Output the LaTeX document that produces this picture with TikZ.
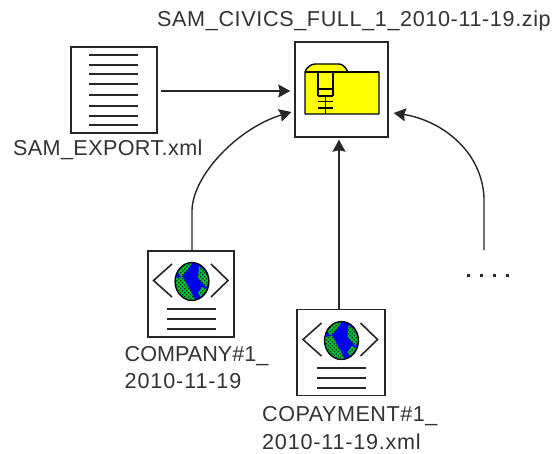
\documentclass[tikz,border=0pt]{standalone}
\usepackage{fontspec}
\setmainfont{Liberation Sans}
\usetikzlibrary{arrows.meta,calc}
\definecolor{fy}{RGB}{255,255,0}
\definecolor{gb}{RGB}{0,0,240}
\definecolor{gg}{RGB}{0,190,50}
\tikzset{
  iconbox/.style={draw=black!85,line width=1.4pt,fill=white,inner sep=0pt,minimum width=#1,minimum height=86pt},
  rule/.style={draw=black!85,line width=1.3pt},
  chev/.style={draw=black!85,line width=1.6pt},
  conn/.style={draw=black!85,line width=1.4pt,-{Stealth[length=12pt,width=13pt,inset=1.5pt]}},
  lbl/.style={inner sep=0pt,anchor=base west,font=\fontsize{21.6pt}{24pt}\selectfont,text=black!80},
  dot/.style={fill=black!85,inner sep=0pt,minimum size=3pt}
}
\newcommand{\lsp}[1]{\addfontfeatures{LetterSpace=#1}}
\newcommand{\xmlicon}[2]{%
  \begin{scope}[shift={(#1,#2)}]
    \draw[chev] (24,13) -- (5.5,29.5) -- (24,46);
    \draw[chev] (63,13) -- (80,29.5) -- (63,46);
    \fill[gb] (44,30.5) ellipse (17 and 19);
    \begin{scope}
      \clip (36,13) -- (44,12) -- (37,22) -- (33,26) -- (30,21) -- cycle
            (51,15) -- (57,20) -- (61,30) -- (58,36) -- (50,27) -- cycle
            (27,27) -- (35,26) -- (41,37) -- (47,49) -- (40,50) -- (29,40) -- cycle
            (54,36) -- (59,38) -- (53,46) -- (50,42) -- cycle;
      \fill[gg] (25,10) rectangle (63,52);
      \foreach \i in {0,...,9}
        \foreach \j in {0,...,10}
          \fill[black!75!gg] ({26+4*\i},{11+4*\j}) rectangle +(1.4,1.4)
                             ({28+4*\i},{13+4*\j}) rectangle +(1.4,1.4);
    \end{scope}
    \draw[black,line width=1.2pt] (44,30.5) ellipse (17 and 19);
    \draw[rule] (19,58) -- (68,58) (19,68) -- (68,68) (19,78) -- (68,78);
  \end{scope}}
\begin{document}
\begin{tikzpicture}[x=1pt,y=-1pt]
\useasboundingbox[fill=white] (0,0) rectangle (553,454);
% nodes
\node[iconbox=93pt,minimum height=95pt] (zip) at (341.5,89.5) {};
\node[iconbox=86pt] (doc) at (114,90) {};
\node[iconbox=86pt] (company) at (191,294) {};
\node[iconbox=88pt] (copay) at (341,352.5) {};
\node[inner sep=0pt,minimum size=1pt] (more) at (484,250) {};
% zip icon
\draw[black,line width=1.4pt,fill=fy,line join=round]
  (305,72) .. controls (306,68) and (311,64) .. (315,64) -- (339,64) .. controls (343,64) and (346,68) .. (348,72) -- (379,72) -- (379,114) -- (305,114) -- cycle;
\draw[black,line width=1.3pt] (305,72) -- (379,72)
  (318,72) -- (318,96) (333,72) -- (333,96)
  (318,89) -- (333,89) (318,96) -- (333,96) (325.5,96) -- (325.5,114)
  (318,101.5) -- (333,101.5) (318,108) -- (333,108);
% document lines
\foreach \y in {55,65,74,84,95,106,116,125}
  \draw[rule] (89,\y) -- (138,\y);
% xml icons
\xmlicon{148}{251}
\xmlicon{297.5}{310}
% connectors
\draw[conn] ($(doc.east |- 0,91)+(3,0)$) -- ($(zip.west |- 0,91)+(-4,0)$);
\draw[conn] (company.north -| 192,0) -- (192,210) .. controls (193,175) and (238,128) .. ($(zip.west |- 0,112)+(-3,0)$);
\draw[conn] (copay.north -| 339,0) -- ($(zip.south -| 339,0)+(0,2)$);
\draw[conn] (more.center) -- (484,198) .. controls (482,150) and (440,120) .. ($(zip.east |- 0,113)+(5,0)$);
% dots
\foreach \x in {468,481,494,507}
  \node[dot] at (\x,275) {};
% labels
\node[lbl] (l1) at (157,27) {\lsp{2.9}SAM\_CIVICS\_FULL\_1\_2010-11-19.zip};
\node[lbl] (l2) at (13,155.5) {\lsp{1.7}SAM\_EXPORT.xml};
\node[lbl] (l3) at (124.5,361) {COMPANY\#1\_};
\node[lbl] (l4) at (124.5,388) {\lsp{4}2010-11-19};
\node[lbl] (l5) at (262,421) {\lsp{2.3}COPAYMENT\#1\_};
\node[lbl] (l6) at (262,449) {\lsp{3.6}2010-11-19.xml};
\end{tikzpicture}
\end{document}
